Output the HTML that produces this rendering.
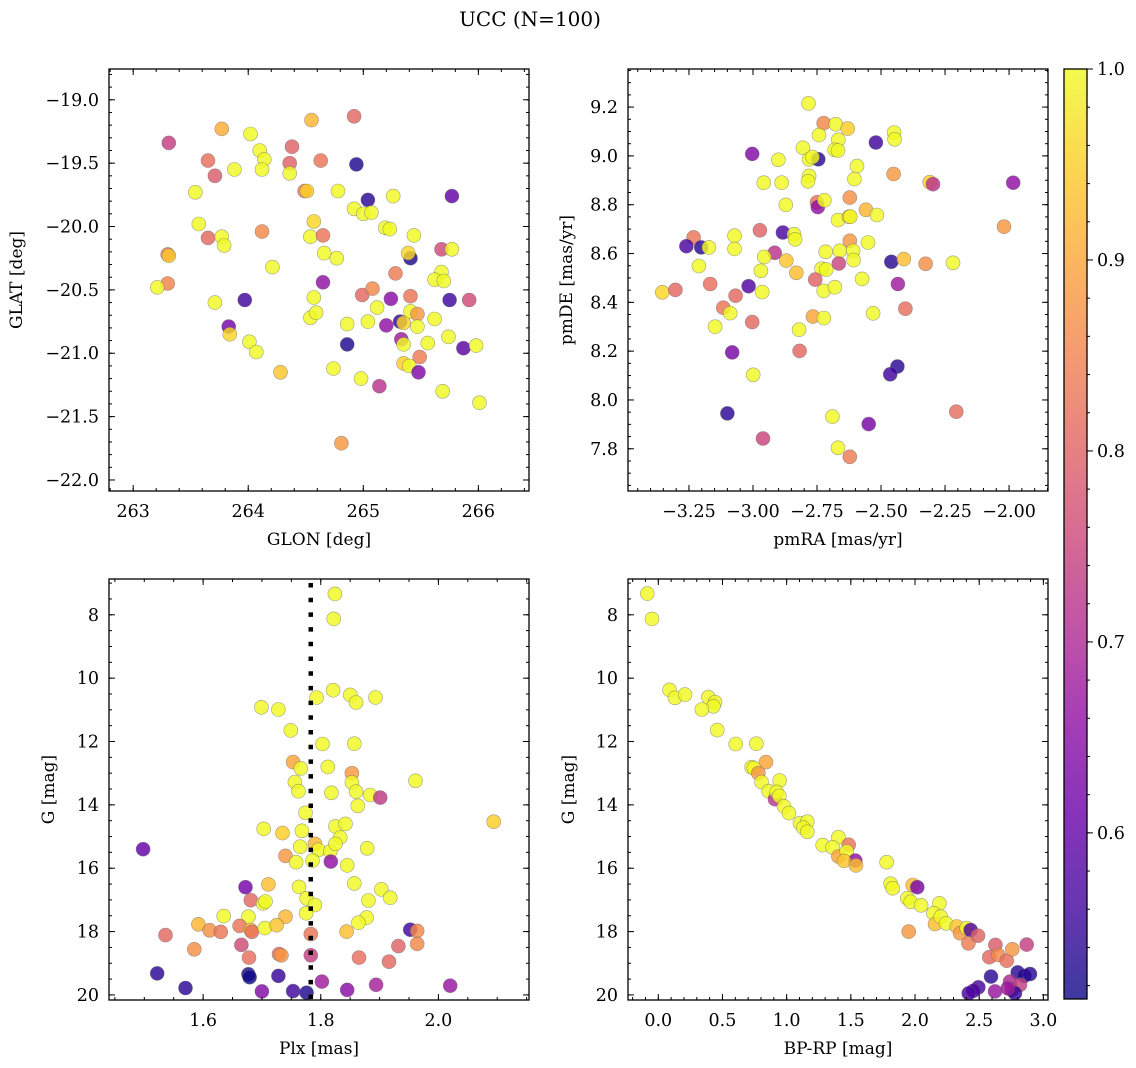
<!DOCTYPE html>
<html><head><meta charset="utf-8"><style>
html,body{margin:0;padding:0;background:#fff;}
svg{display:block;font-family:"DejaVu Serif","Liberation Serif",serif;}
</style></head><body>
<svg id="fig" width="1136" height="1068" viewBox="0 0 1136 1068" xmlns="http://www.w3.org/2000/svg">
<text x="530" y="26" text-anchor="middle" font-size="20">UCC (N=100)</text>
<defs><linearGradient id="plasma" x1="0" y1="1" x2="0" y2="0"></linearGradient></defs>
</svg>
<script>
// ---- Panel 1: GLON vs GLAT ----
const p1Glon=[263.31,263.77,264.02,264.55,264.92,264.10,264.14,264.12,264.38,264.36,264.36,264.63,263.65,263.71,263.88,264.94,263.54,264.49,264.51,264.78,265.04,265.26,265.77,264.92,265.00,265.07,263.57,264.57,265.19,265.23,265.44,263.65,263.77,263.79,264.12,264.54,264.65,263.30,263.31,263.30,263.21,264.66,264.77,265.68,265.77,265.41,265.39,264.21,265.28,265.68,265.62,265.70,264.65,263.71,263.97,264.57,264.99,265.08,265.24,265.41,265.75,265.92,264.54,264.59,265.12,264.86,265.04,265.20,265.32,265.35,265.41,265.47,265.47,265.62,263.83,263.84,264.01,264.07,264.86,265.33,265.35,265.56,265.74,265.87,265.98,265.49,264.28,264.74,265.35,265.40,265.48,264.98,265.14,265.69,266.01,264.81];
const p1Glat=[-19.34,-19.23,-19.27,-19.16,-19.13,-19.40,-19.47,-19.55,-19.37,-19.50,-19.58,-19.48,-19.48,-19.60,-19.55,-19.51,-19.73,-19.72,-19.72,-19.72,-19.79,-19.76,-19.76,-19.86,-19.90,-19.89,-19.98,-19.96,-20.01,-20.02,-20.07,-20.09,-20.08,-20.15,-20.04,-20.08,-20.07,-20.22,-20.23,-20.45,-20.48,-20.21,-20.25,-20.18,-20.18,-20.25,-20.21,-20.32,-20.37,-20.36,-20.42,-20.43,-20.44,-20.60,-20.58,-20.56,-20.54,-20.49,-20.57,-20.55,-20.58,-20.58,-20.72,-20.68,-20.64,-20.77,-20.75,-20.78,-20.75,-20.76,-20.67,-20.69,-20.79,-20.73,-20.79,-20.85,-20.91,-20.99,-20.93,-20.89,-20.93,-20.92,-20.87,-20.96,-20.94,-21.03,-21.15,-21.12,-21.08,-21.10,-21.15,-21.20,-21.26,-21.30,-21.39,-21.71];
const p1C=[0.74,0.91,1,0.92,0.81,1,1,1,0.80,0.80,1,0.83,0.82,0.79,1,0.53,1,0.84,0.95,1,0.54,1,0.60,1,1,1,1,0.96,1,1,1,0.81,1,1,0.86,1,0.83,0.85,0.94,0.85,1,1,1,0.76,1,0.53,0.96,1,0.84,1,1,1,0.66,1,0.56,1,0.81,0.86,0.65,0.83,0.56,0.76,1,1,1,1,1,0.66,0.55,0.96,1,0.88,1,1,0.62,0.96,1,1,0.53,0.68,1,1,1,0.59,1,0.84,0.94,1,0.95,1,0.64,1,0.72,1,1,0.88];
// ---- Panel 2: pmRA vs pmDE ----
const p2Ra=[-2.783,-2.724,-2.677,-2.630,-2.742,-2.667,-2.449,-2.447,-2.520,-2.805,-2.681,-2.668,-3.003,-2.901,-2.781,-2.745,-2.768,-2.594,-2.604,-2.781,-2.785,-2.958,-2.888,-2.451,-2.310,-2.297,-1.984,-2.872,-2.750,-2.747,-2.721,-2.622,-2.559,-2.516,-2.668,-2.625,-2.620,-2.020,-3.232,-3.260,-3.202,-3.172,-2.973,-2.883,-2.840,-2.835,-3.072,-3.072,-2.622,-2.551,-2.716,-2.661,-2.609,-2.607,-2.915,-2.956,-2.870,-3.211,-2.969,-2.831,-2.732,-2.714,-2.665,-2.460,-2.411,-2.326,-2.219,-2.757,-2.724,-2.680,-2.574,-2.434,-3.167,-3.017,-2.964,-3.354,-3.303,-3.068,-3.116,-3.089,-3.148,-3.003,-2.766,-2.723,-2.531,-2.405,-2.820,-2.818,-3.081,-2.999,-2.436,-2.464,-3.100,-2.690,-2.548,-2.206,-2.961,-2.668,-2.622];
const p2De=[9.215,9.134,9.130,9.112,9.085,9.066,9.096,9.068,9.055,9.033,9.025,9.022,9.008,8.984,8.986,8.986,8.995,8.958,8.905,8.918,8.896,8.890,8.890,8.926,8.892,8.884,8.890,8.799,8.810,8.790,8.818,8.829,8.779,8.758,8.737,8.751,8.751,8.710,8.666,8.630,8.625,8.625,8.695,8.686,8.679,8.658,8.673,8.619,8.652,8.645,8.607,8.611,8.611,8.573,8.603,8.586,8.571,8.549,8.529,8.521,8.538,8.534,8.559,8.566,8.577,8.558,8.562,8.493,8.447,8.462,8.496,8.475,8.475,8.466,8.442,8.441,8.451,8.427,8.378,8.356,8.300,8.319,8.342,8.336,8.355,8.374,8.288,8.201,8.195,8.103,8.137,8.105,7.945,7.932,7.901,7.952,7.842,7.804,7.767];
const p2C=[1,0.86,1,0.95,1,1,1,1,0.56,1,1,1,0.64,1,1,0.54,1,1,1,1,1,1,1,0.88,0.95,0.72,0.66,1,0.83,0.66,1,0.87,0.92,1,1,0.94,1,0.88,0.83,0.57,0.54,1,0.80,0.57,1,1,1,1,0.88,1,1,1,1,1,0.72,1,0.94,1,1,0.93,1,1,0.75,0.54,0.93,0.87,1,0.80,1,1,1,0.68,0.82,0.58,1,0.96,0.81,0.81,0.83,1,1,0.81,0.90,1,1,0.82,1,0.81,0.63,1,0.54,0.56,0.54,1,0.63,0.82,0.75,1,0.84];
// ---- Panel 3: Plx vs G ----
const p3Plx=[1.824,1.822,1.821,1.793,1.850,1.860,1.893,1.699,1.728,1.749,1.803,1.857,1.753,1.766,1.812,1.853,1.853,1.756,1.762,1.818,1.860,1.884,1.901,1.961,1.863,1.774,2.094,1.703,1.735,1.768,1.825,1.842,1.833,1.765,1.790,1.796,1.816,1.825,1.879,1.740,1.758,1.786,1.817,1.845,1.498,1.672,1.711,1.763,1.857,1.903,1.918,1.881,1.776,1.790,1.681,1.702,1.706,1.775,1.635,1.677,1.740,1.878,1.864,1.592,1.611,1.630,1.662,1.681,1.683,1.705,1.725,1.844,1.952,1.964,1.964,1.783,1.536,1.585,1.665,1.729,1.733,1.678,1.783,1.865,1.916,1.932,1.522,1.570,1.677,1.679,1.728,1.700,1.753,1.776,1.802,1.845,1.894,2.020];
const p3G=[7.34,8.13,10.38,10.61,10.53,10.77,10.61,10.92,10.99,11.65,12.08,12.07,12.65,12.85,12.80,13.00,13.29,13.28,13.57,13.62,13.58,13.69,13.77,13.24,14.03,14.25,14.53,14.76,14.89,14.82,14.68,14.60,15.03,15.32,15.23,15.42,15.47,15.23,15.37,15.61,15.81,15.76,15.79,15.91,15.40,16.60,16.51,16.59,16.48,16.67,16.93,17.02,16.95,17.16,17.01,17.11,17.05,17.42,17.51,17.53,17.53,17.56,17.72,17.77,17.96,18.01,17.82,17.95,18.01,17.89,17.80,18.00,17.94,17.98,18.39,18.08,18.11,18.56,18.42,18.71,18.75,18.82,18.75,18.82,18.95,18.46,19.32,19.78,19.35,19.44,19.40,19.89,19.88,19.93,19.58,19.84,19.68,19.71];
const p3C=[1,1,1,1,1,1,1,1,1,1,1,1,0.90,1,1,0.88,1,1,1,1,1,1,0.73,1,1,1,0.95,1,0.95,1,1,1,1,1,0.92,1,1,1,1,0.88,1,1,0.66,1,0.60,0.62,0.93,1,1,1,1,1,1,1,0.81,1,1,1,1,1,0.92,1,1,0.92,0.87,0.83,0.83,0.92,0.82,1,0.94,0.93,0.56,0.86,0.86,0.83,0.81,0.87,0.76,0.82,0.88,0.82,0.74,0.82,0.81,0.80,0.54,0.54,0.53,0.51,0.55,0.64,0.56,0.53,0.68,0.65,0.69,0.67];
const p3PlxLine=1.783;
// ---- Panel 4: BP-RP vs G ----
const p4Col=[-0.086,-0.049,0.088,0.130,0.208,0.390,0.442,0.429,0.340,0.460,0.603,0.764,0.839,0.727,0.745,0.779,0.805,0.945,0.860,0.909,0.922,0.943,0.979,1.018,1.104,1.161,1.130,1.161,1.281,1.403,1.358,1.483,1.403,1.468,1.535,1.447,1.540,1.779,1.810,1.826,1.982,2.018,1.940,1.966,2.047,1.951,2.190,2.143,2.156,2.200,2.242,2.325,2.351,2.403,2.434,2.416,2.491,2.626,2.579,2.649,2.714,2.758,2.870,2.592,2.800,2.852,2.896,2.494,2.455,2.418,2.623,2.740,2.753,2.818,2.779,2.722];
const p4G=[7.33,8.13,10.37,10.62,10.52,10.60,10.76,10.89,10.99,11.64,12.08,12.07,12.65,12.81,12.84,13.00,13.28,13.23,13.57,13.82,13.59,13.72,14.05,14.26,14.58,14.53,14.72,14.85,15.27,15.02,15.34,15.26,15.63,15.47,15.76,15.77,15.91,15.81,16.49,16.63,16.53,16.60,16.95,17.06,17.17,18.00,17.11,17.42,17.76,17.53,17.74,17.84,18.05,17.89,17.95,18.37,18.13,18.42,18.81,18.74,18.92,18.56,18.41,19.42,19.29,19.40,19.34,19.76,19.87,19.95,19.89,19.58,19.84,19.68,19.95,19.79];
const p4C=[1,1,1,1,1,1,1,1,1,1,1,1,0.90,1,1,0.88,1,1,1,0.72,1,1,1,1,1,1,1,1,1,1,1,0.83,0.90,1,0.66,0.94,0.93,1,1,1,0.93,0.63,1,1,1,0.88,1,1,0.93,1,1,0.94,0.88,1,0.58,0.84,0.80,0.79,0.81,0.86,0.82,0.88,0.74,0.54,0.54,0.53,0.54,0.57,0.57,0.57,0.67,0.70,0.67,0.74,0.55,0.68];
// colorbar
const cbTicks=[0.6,0.7,0.8,0.9,1.0];
const cMin=0.513, cMax=1.0;

const NS="http://www.w3.org/2000/svg";
const svg=document.getElementById('fig');
const TFS=17.5, LFS=17;
const plasma=[[13,8,135],[65,4,157],[106,0,168],[143,13,164],[177,42,144],[204,71,120],[225,100,98],[242,132,75],[252,166,54],[252,206,37],[240,249,33]];
function cmap(v){let t=(v-cMin)/(cMax-cMin);t=Math.max(0,Math.min(1,t));const p=t*10,i=Math.min(9,Math.floor(p)),f=p-i;const a=plasma[i],b=plasma[i+1];return 'rgb('+a.map((x,k)=>Math.round(x+(b[k]-x)*f)).join(',')+')';}
function mk(tag,attrs,parent){const e=document.createElementNS(NS,tag);for(const k in attrs)e.setAttribute(k,attrs[k]);(parent||svg).appendChild(e);return e;}
function fmt(v,d){const s=Math.abs(v).toFixed(d);return (v<-1e-9?'\u2212':'')+s;}
const eps=1e-6;
function ticks(lo,hi,step){const a=[];const s=Math.ceil((lo-eps)/step);for(let k=s;k*step<=hi+eps;k++)a.push(+(k*step).toFixed(6));return a;}

function panel(name,box,xd,yd,inv,xMaj,xMin,yMaj,yMin,xDec,yDec,xLabel,yLabel,xs,ys,cs,yLabelX){
  const g=mk('g',{});
  
  
  const X=v=>box.x0+(v-xd[0])/(xd[1]-xd[0])*(box.x1-box.x0);
  const Y=inv?(v=>box.y0+(v-yd[0])/(yd[1]-yd[0])*(box.y1-box.y0)):(v=>box.y1-(v-yd[0])/(yd[1]-yd[0])*(box.y1-box.y0));
  const clip=mk('clipPath',{id:'clip-'+name},g);
  mk('rect',{x:box.x0,y:box.y0,width:box.x1-box.x0,height:box.y1-box.y0},clip);
  const marks=mk('g',{'clip-path':'url(#clip-'+name+')'},g);
  
  
  for(let i=0;i<xs.length;i++){
    const c=mk('circle',{cx:X(xs[i]).toFixed(1),cy:Y(ys[i]).toFixed(1),r:7,fill:cmap(cs[i]),'fill-opacity':0.82,stroke:'#666','stroke-width':0.6,'stroke-opacity':0.6},marks);
    
    
  }
  if(name==='plx-g-panel'){
    const ln=mk('line',{x1:X(p3PlxLine),x2:X(p3PlxLine),y1:box.y0+4,y2:box.y1,stroke:'#000','stroke-width':4.5,'stroke-dasharray':'4.5 10.2'},marks);
    
    
  }
  const tk=mk('g',{stroke:'#000','stroke-width':1},g);
  ticks(xd[0],xd[1],xMin).forEach(v=>{const x=X(v);mk('line',{x1:x,x2:x,y1:box.y1,y2:box.y1-3},tk);mk('line',{x1:x,x2:x,y1:box.y0,y2:box.y0+3},tk);});
  ticks(yd[0],yd[1],yMin).forEach(v=>{const y=Y(v);mk('line',{x1:box.x0,x2:box.x0+3,y1:y,y2:y},tk);mk('line',{x1:box.x1,x2:box.x1-3,y1:y,y2:y},tk);});
  ticks(xd[0],xd[1],xMaj).forEach(v=>{const x=X(v);mk('line',{x1:x,x2:x,y1:box.y1,y2:box.y1-6},tk);mk('line',{x1:x,x2:x,y1:box.y0,y2:box.y0+6},tk);
    const t=mk('text',{x:x,y:box.y1+26,'text-anchor':'middle','font-size':TFS},g);t.textContent=fmt(v,xDec);
    
    });
  ticks(yd[0],yd[1],yMaj).forEach(v=>{const y=Y(v);mk('line',{x1:box.x0,x2:box.x0+6,y1:y,y2:y},tk);mk('line',{x1:box.x1,x2:box.x1-6,y1:y,y2:y},tk);
    const t=mk('text',{x:box.x0-10,y:y+6,'text-anchor':'end','font-size':TFS},g);t.textContent=fmt(v,yDec);
    
    });
  mk('rect',{x:box.x0,y:box.y0,width:box.x1-box.x0,height:box.y1-box.y0,fill:'none',stroke:'#000','stroke-width':1.3},g);
  const xl=mk('text',{x:(box.x0+box.x1)/2,y:box.y1+54,'text-anchor':'middle','font-size':LFS},g);xl.textContent=xLabel;
  
  
  const cy=(box.y0+box.y1)/2;
  const yl=mk('text',{x:yLabelX,y:cy,'text-anchor':'middle','font-size':LFS,transform:'rotate(-90 '+yLabelX+' '+cy+')'},g);yl.textContent=yLabel;
  
  
}
panel('glon-glat-panel',{x0:109,x1:529,y0:69,y1:491},[262.79,266.44],[-22.087,-18.757],false,1,0.2,0.5,0.1,0,1,'GLON [deg]','GLAT [deg]',p1Glon,p1Glat,p1C,22);
panel('pm-panel',{x0:628,x1:1048,y0:69,y1:491},[-3.488,-1.848],[7.627,9.356],false,0.25,0.05,0.2,0.05,2,1,'pmRA [mas/yr]','pmDE [mas/yr]',p2Ra,p2De,p2C,572);
panel('plx-g-panel',{x0:109,x1:529,y0:579,y1:1000},[1.44,2.154],[6.87,20.16],true,0.2,0.05,2,0.5,1,0,'Plx [mas]','G [mag]',p3Plx,p3G,p3C,54);
panel('color-g-panel',{x0:628,x1:1048,y0:579,y1:1000},[-0.236,3.036],[6.87,20.16],true,0.5,0.1,2,0.5,1,0,'BP-RP [mag]','G [mag]',p4Col,p4G,p4C,574);
// colorbar
const grad=document.getElementById('plasma');
plasma.forEach((c,i)=>{mk('stop',{offset:(i*10)+'%','stop-color':'rgb('+c.join(',')+')'},grad);});
const cb={x0:1064,x1:1087,y0:69,y1:999};
const cbg=mk('g',{});


mk('rect',{x:cb.x0,y:cb.y0,width:cb.x1-cb.x0,height:cb.y1-cb.y0,fill:'url(#plasma)','fill-opacity':0.8},cbg);
const CY=v=>cb.y1-(v-cMin)/(cMax-cMin)*(cb.y1-cb.y0);
for(let k=26;k<=50;k++){const v=k*0.02;if(v<cMin-1e-9)continue;const y=CY(v);mk('line',{x1:cb.x1,x2:cb.x1+3,y1:y,y2:y,stroke:'#000','stroke-width':1},cbg);}
cbTicks.forEach(v=>{const y=CY(v);mk('line',{x1:cb.x1,x2:cb.x1+6,y1:y,y2:y,stroke:'#000','stroke-width':1},cbg);
  const t=mk('text',{x:cb.x1+10,y:y+6,'font-size':TFS},cbg);t.textContent=v.toFixed(1);
  
  });
mk('rect',{x:cb.x0,y:cb.y0,width:cb.x1-cb.x0,height:cb.y1-cb.y0,fill:'none',stroke:'#000','stroke-width':1.3},cbg);
</script>
</body></html>
